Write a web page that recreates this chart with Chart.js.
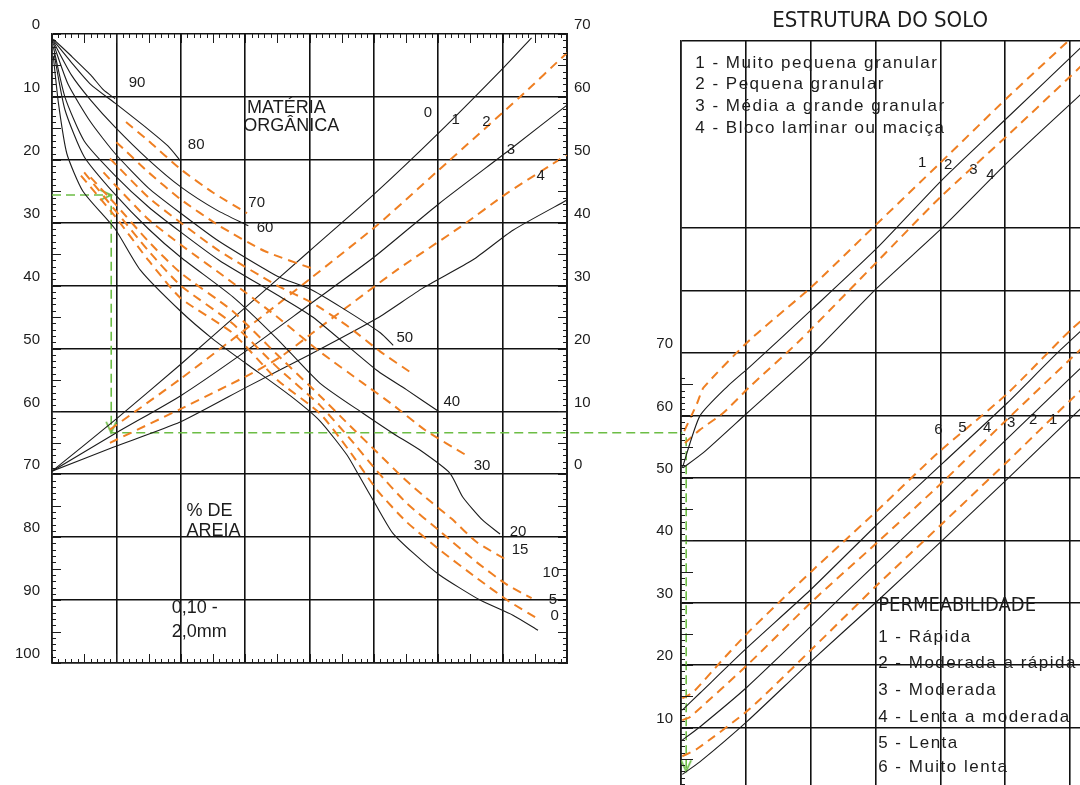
<!DOCTYPE html>
<html>
<head>
<meta charset="utf-8">
<title>Nomograma de erodibilidade</title>
<script src="https://cdn.jsdelivr.net/npm/chart.js@4.4.1/dist/chart.umd.min.js"></script>
<style>
  html, body { margin: 0; padding: 0; background: #fff; width: 1080px; height: 785px; overflow: hidden; }
  canvas { position: absolute; top: 0; }
  #left { left: 0; }
  #right { left: 580px; }
</style>
</head>
<body>
<canvas id="left" width="700" height="785"></canvas>
<canvas id="right" width="600" height="810"></canvas>
<script>
// ---------- left nomograph: x = grid column, y = % silt + very fine sand
var siltTicks = [0, 10, 20, 30, 40, 50, 60, 70, 80, 90, 100];
var kTicks = [70, 60, 50, 40, 30, 20, 10, 0];
var colTicks = [0, 1, 2, 3, 4, 5, 6, 7, 8];

// % sand curves (0,10 - 2,0 mm)
var sand90 = [[0.02,0.8],[0.3,3.5],[0.6,6.5],[0.8,8.9],[0.98,10.3]];
var sand80 = [[0.02,1],[0.3,4.5],[0.6,8],[0.98,11],[1.5,15.2],[1.8,17.8],[2.0,20.2]];
var sand70 = [[1.15,14],[1.5,17],[2.0,21.5],[2.5,25.2],[3.03,28.5]];
var sand60 = [[0.02,1.2],[0.3,6.5],[0.6,10.5],[0.98,14.8],[1.5,20],[2.0,24.3],[2.56,28],[3.05,30.5]];
var sand55 = [[1.0,17.2],[1.5,22],[2.0,26.3],[2.6,30.5],[3.3,34.5],[4.1,37.5]];
var sand50 = [[0.02,1.5],[0.25,8],[0.6,14],[0.98,19],[1.5,24.5],[2.0,28.5],[2.6,33],[3.5,38.5],[4.0,40.5],[4.5,43.5],[5.1,47.5],[5.3,49.5]];
var sand45 = [[0.9,19.8],[1.5,26],[2.0,30],[2.6,34.5],[3.5,40],[4.05,42.8],[4.6,46.5],[5.1,50.5],[5.6,54]];
var sand40 = [[0.02,2],[0.2,10],[0.5,17],[0.98,22.5],[1.5,27.5],[2.0,31.5],[2.6,36],[3.5,41.5],[4.05,45],[5.05,53.5],[5.5,56.5],[6.02,60.1]];
var sand30 = [[0.8,22],[0.98,24],[1.5,29.5],[2.0,33.5],[2.8,39.5],[3.5,45],[4.16,50.5],[4.83,55.5],[5.3,59],[5.8,63],[6.44,67]];
var sand20 = [[0.03,3],[0.2,12],[0.5,19.5],[0.98,25.5],[1.5,31],[2.0,35.5],[2.81,41.8],[3.5,48.5],[4.16,55.5],[4.83,60.3],[5.3,63.5],[5.71,66.1],[6.18,69.8],[6.38,73.6],[6.69,77.3],[6.96,79.5]];
var sand15 = [[0.6,22.8],[0.98,27],[1.5,33],[2.0,38],[2.8,44],[3.5,51],[4.16,57.5],[4.6,62],[5.05,66.5],[5.5,71],[5.9,74.5],[6.2,77],[6.6,80.8],[7.06,83.6]];
var sand10 = [[0.5,22],[0.98,28],[1.5,34.5],[2.0,40],[2.8,46],[3.5,53],[4.16,59],[4.6,64],[5.05,69.5],[5.5,74.5],[6.02,79],[6.6,84],[7.06,87.5],[7.45,89.7]];
var sand5 = [[0.45,22.5],[0.98,29],[1.5,36],[2.0,42],[2.8,47.5],[3.5,55],[4.16,60.3],[4.6,66],[5.05,72.5],[5.5,77.5],[6.02,82],[6.6,86.5],[7.1,90.2],[7.55,93]];
var sand0 = [[0.02,3.5],[0.1,11],[0.23,19],[0.48,25],[0.98,31],[1.37,37.5],[1.99,44],[2.5,48.5],[3.03,52.5],[3.7,57.5],[4.16,61.5],[4.58,66.9],[4.78,70.4],[5.05,75.2],[5.29,79.3],[5.61,82.5],[6.02,86],[6.65,90],[7.16,92.4],[7.55,94.8]];

// organic matter lines
var om0 = [[0,69.5],[1,61.2],[2,52.5],[3,43.5],[4,34.5],[5,25.5],[6,15.8],[7,5.5],[7.45,0.6]];
var om1 = [[0.9,62.9],[2,54.8],[3,47],[4,39],[5.05,30.4],[6.13,20.5],[7.27,10],[8,3]];
var om3 = [[0,69.5],[1,63.4],[2,57.5],[3,50.5],[4,43],[5,35.5],[6.02,26.9],[7.11,18.4],[8,11.3]];
var om4 = [[0.9,65],[2,59.6],[3,54.5],[3.54,51.4],[4.05,47.5],[5.36,37.5],[6.34,30.7],[7.07,25.3],[8,19.2]];
var omLow = [[0,69.5],[0.95,65.7],[1.99,61.7],[3.03,56.1],[4,51],[5.05,45.2],[5.76,40.4],[6.54,35.9],[7.16,31.2],[8,26.4]];

// example reading (green)
var guideLeft = [[0,25.6],[0.92,25.6],[0.92,63.4],[9.77,63.4]];

// ---------- right nomograph: x = grid column, y = K x 100
var rTicks = [10, 20, 30, 40, 50, 60, 70];
var rGrid = [0, 10, 20, 30, 40, 50, 60, 70, 80, 90, 120];
var rCols = [0, 1, 2, 3, 4, 5, 6, 7];

// soil structure
var struct1 = [[0.05,57.5],[0.25,62],[0.35,64.5],[1.06,72.1],[1.99,80.4],[2.92,89.7],[4.0,100.5],[5.03,110.9],[5.96,119.9],[6.1,121.2]];
var struct2 = [[0.02,51.6],[0.29,59.9],[0.71,64.6],[1.06,67.8],[2.04,77.2],[3.02,86.8],[4.03,97.8],[5.03,107.7],[6.16,118.9],[6.3,120.5]];
var struct3 = [[0.06,55.6],[0.29,57.7],[0.65,60.4],[1.06,64.6],[1.84,72.1],[3.02,84.6],[4.0,95],[5.08,105.3],[6.11,115.4],[6.6,120.5]];
var struct4 = [[0.03,51.6],[0.34,54],[1.02,60.4],[2.04,70],[3.02,80.4],[4.03,90.1],[5.03,100.5],[6.16,111.4],[7,119.5]];

// permeability
var perm1 = [[0.02,14.7],[0.19,15.7],[0.6,20.4],[1.03,25.2],[2.04,35.3],[3.04,44.9],[3.95,53.9],[5.03,63.5],[6.0,73.6],[7,82.5]];
var perm2 = [[0.02,12.8],[0.29,15.5],[1.02,22.8],[1.99,32],[3.02,42.5],[4.04,52.4],[5.03,62],[5.85,70.5],[7,81.5]];
var perm3 = [[0.02,11.2],[0.14,11.7],[1.06,20.4],[2.04,30.4],[3.02,39.6],[4.05,49.5],[5.03,59.4],[6.0,69],[7,78.8]];
var perm4 = [[0.02,8],[0.29,10.1],[1.02,16.5],[1.99,26.1],[3.02,36.4],[4.03,46.3],[5.03,56.3],[6.0,66],[7,75.8]];
var perm5 = [[0.02,5.4],[0.25,6.6],[1.06,13],[2.04,22.8],[3.02,32.8],[4.05,42.9],[5.03,52.6],[6,62.4],[7,72.2]];
var perm6 = [[0.02,2.5],[0.29,4.5],[1.02,11],[1.99,20.5],[3.02,30.2],[4.05,40.2],[5.03,49.8],[6.0,59.5],[7,69.3]];

var guideRight = [[0.08,56.5],[0.08,3]];
var guideRightTip = [[0,57.2]];

// ---------- texts
var leftNotes = [
  {t:'90', x:1.32, y:7.8}, {t:'80', x:2.24, y:17.6}, {t:'70', x:3.18, y:26.9},
  {t:'60', x:3.31, y:30.8}, {t:'50', x:5.48, y:48.3}, {t:'40', x:6.21, y:58.5},
  {t:'30', x:6.68, y:68.7}, {t:'20', x:7.24, y:79.2}, {t:'15', x:7.27, y:82},
  {t:'10', x:7.75, y:85.7}, {t:'5', x:7.78, y:90}, {t:'0', x:7.81, y:92.5},
  {t:'0', x:5.84, y:12.6}, {t:'1', x:6.27, y:13.7}, {t:'2', x:6.75, y:14},
  {t:'3', x:7.13, y:18.4}, {t:'4', x:7.59, y:22.6},
  {t:'MATÉRIA', x:3.03, y:11.8, f:'block', align:'left'},
  {t:'ORGÂNICA', x:2.97, y:14.6, f:'block', align:'left'},
  {t:'% DE', x:2.09, y:75.8, f:'block', align:'left'},
  {t:'AREIA', x:2.09, y:79, f:'block', align:'left'},
  {t:'0,10 -', x:1.86, y:91.3, f:'block', align:'left'},
  {t:'2,0mm', x:1.86, y:95, f:'block', align:'left'}
];
var rightNotes = [
  {t:'ESTRUTURA DO SOLO', x:3.07, y:123.1, f:'title'},
  {t:'1 - Muito pequena granular', x:0.22, y:116.5, f:'legend', align:'left'},
  {t:'2 - Pequena granular', x:0.22, y:113, f:'legend', align:'left'},
  {t:'3 - Média a grande granular', x:0.22, y:109.5, f:'legend', align:'left'},
  {t:'4 - Bloco laminar ou maciça', x:0.22, y:106, f:'legend', align:'left'},
  {t:'1', x:3.72, y:100.5}, {t:'2', x:4.12, y:100.2}, {t:'3', x:4.51, y:99.4}, {t:'4', x:4.77, y:98.6},
  {t:'6', x:3.97, y:57.7}, {t:'5', x:4.34, y:58}, {t:'4', x:4.72, y:58},
  {t:'3', x:5.09, y:58.8}, {t:'2', x:5.43, y:59.3}, {t:'1', x:5.74, y:59.3},
  {t:'PERMEABILIDADE', x:3.04, y:29.5, f:'head', align:'left'},
  {t:'1 - Rápida', x:3.04, y:24.5, f:'legend', align:'left'},
  {t:'2 - Moderada a rápida', x:3.04, y:20.35, f:'legend', align:'left'},
  {t:'3 - Moderada', x:3.04, y:16, f:'legend', align:'left'},
  {t:'4 - Lenta a moderada', x:3.04, y:11.7, f:'legend', align:'left'},
  {t:'5 - Lenta', x:3.04, y:7.5, f:'legend', align:'left'},
  {t:'6 - Muito lenta', x:3.04, y:3.7, f:'legend', align:'left'}
];

var ink = '#1c1c1c';
var orange = '#ef7f22';
var green = '#6cbd45';
var fonts = {
  num: {font: '15px "Liberation Sans", Arial, sans-serif'},
  block: {font: '18px "Liberation Sans", Arial, sans-serif'},
  title: {font: '22px "Liberation Sans Narrow", "DejaVu Sans Condensed", sans-serif'},
  head: {font: '20px "Liberation Sans Narrow", "DejaVu Sans Condensed", sans-serif'},
  legend: {font: '17px "Liberation Sans", Arial, sans-serif', spacing: '1.5px'}
};

// little open arrow head, tip in the middle of the canvas
function chevron() {
  var c = document.createElement('canvas');
  c.width = 24; c.height = 24;
  var g = c.getContext('2d');
  g.strokeStyle = green; g.lineWidth = 1.8;
  g.beginPath(); g.moveTo(1, 7); g.lineTo(12, 12); g.lineTo(1, 17); g.stroke();
  return c;
}
var arrow = chevron();

function black(data) {
  return {data: data, showLine: true, borderColor: ink, borderWidth: 1.1, pointRadius: 0, tension: 0.2};
}
function dashed(data) {
  return {data: data, showLine: true, borderColor: orange, borderWidth: 2, borderDash: [9, 6], pointRadius: 0, tension: 0.2};
}

// inside tick marks + free texts
var notesPlugin = {
  id: 'notes',
  afterDraw: function(chart, args, opts) {
    var ctx = chart.ctx, area = chart.chartArea;
    var xs = chart.scales.x, ys = chart.scales.y;
    ctx.save();
    ctx.strokeStyle = ink;
    ctx.lineWidth = 1;
    (opts.ticks || []).forEach(function(t) {
      for (var i = t.from; i <= t.to; i++) {
        var len = (i % t.every == 0) ? t.long : t.short;
        var d;
        ctx.beginPath();
        if (t.side == 'left' || t.side == 'right') {
          var py = Math.round(ys.getPixelForValue(i * t.step)) + 0.5;
          var x0 = t.side == 'left' ? area.left : area.right;
          d = t.side == 'left' ? len : -len;
          ctx.moveTo(x0, py); ctx.lineTo(x0 + d, py);
        } else {
          var px = Math.round(xs.getPixelForValue(i * t.step)) + 0.5;
          var y0 = t.side == 'top' ? area.top : area.bottom;
          d = t.side == 'top' ? len : -len;
          ctx.moveTo(px, y0); ctx.lineTo(px, y0 + d);
        }
        ctx.stroke();
      }
    });
    ctx.fillStyle = ink;
    ctx.textBaseline = 'middle';
    (opts.texts || []).forEach(function(n) {
      var f = fonts[n.f || 'num'];
      ctx.font = f.font;
      ctx.letterSpacing = f.spacing || '0px';
      ctx.textAlign = n.align || 'center';
      ctx.fillText(n.t, xs.getPixelForValue(n.x), ys.getPixelForValue(n.y));
    });
    ctx.restore();
  }
};

var gridStyle = {color: '#111', lineWidth: 1.6, drawTicks: false};
var tickFont = {family: '"Liberation Sans", Arial, sans-serif', size: 15};

// ---------- left chart
var leftSets = [
  black(sand90), black(sand80), dashed(sand70), black(sand60), dashed(sand55), black(sand50),
  dashed(sand45), black(sand40), dashed(sand30), black(sand20), dashed(sand15), dashed(sand10),
  dashed(sand5), black(sand0),
  black(om0), dashed(om1), black(om3), dashed(om4), black(omLow),
  {data: guideLeft, showLine: true, borderColor: green, borderWidth: 1.6, borderDash: [9, 5], clip: false,
   pointRadius: [0, 3, 3, 0], pointStyle: ['circle', arrow, arrow, 'circle'], pointRotation: [0, 0, 90, 0]}
];

new Chart(document.getElementById('left'), {
  type: 'scatter',
  data: {datasets: leftSets},
  options: {
    responsive: false,
    animation: false,
    layout: {padding: {left: 0, right: 0, top: 34, bottom: 122}},
    plugins: {
      legend: {display: false},
      tooltip: {enabled: false},
      notes: {
        texts: leftNotes,
        ticks: [
          {side: 'left', from: 0, to: 100, step: 1, every: 5, short: 4, long: 9},
          {side: 'right', from: 0, to: 100, step: 1, every: 5, short: 4, long: 9},
          {side: 'top', from: 0, to: 80, step: 0.1, every: 5, short: 4, long: 9},
          {side: 'bottom', from: 0, to: 80, step: 0.1, every: 5, short: 4, long: 9}
        ]
      }
    },
    scales: {
      x: {
        type: 'linear', min: 0, max: 8,
        afterBuildTicks: function(s) { s.ticks = colTicks.map(function(v) { return {value: v}; }); },
        ticks: {display: false},
        grid: gridStyle,
        border: {color: ink, width: 1.6},
        afterFit: function(s) { s.height = 0; }
      },
      y: {
        type: 'linear', min: 0, max: 100, reverse: true, position: 'left',
        afterBuildTicks: function(s) { s.ticks = siltTicks.map(function(v) { return {value: v}; }); },
        ticks: {color: ink, font: tickFont, padding: 12, labelOffset: -9},
        grid: gridStyle,
        border: {color: ink, width: 1.6},
        afterFit: function(s) { s.width = 52; }
      },
      y2: {
        type: 'linear', min: -30, max: 70, position: 'right',
        afterBuildTicks: function(s) { s.ticks = kTicks.map(function(v) { return {value: v}; }); },
        ticks: {color: ink, font: tickFont, padding: 7, labelOffset: -9},
        grid: {drawOnChartArea: false, drawTicks: false},
        border: {color: ink, width: 2},
        afterFit: function(s) { s.width = 133; }
      }
    }
  },
  plugins: [notesPlugin]
});

// ---------- right chart
var rightSets = [
  dashed(struct1), black(struct2), dashed(struct3), black(struct4),
  dashed(perm1), black(perm2), dashed(perm3), black(perm4), dashed(perm5), black(perm6),
  {data: guideRight, showLine: true, borderColor: green, borderWidth: 1.6, borderDash: [9, 5],
   pointRadius: [0, 3], pointStyle: ['circle', arrow], pointRotation: [0, 90]},
  {data: guideRightTip, showLine: false, pointRadius: 3, pointStyle: arrow, pointRotation: 0}
];

new Chart(document.getElementById('right'), {
  type: 'scatter',
  data: {datasets: rightSets},
  options: {
    responsive: false,
    animation: false,
    layout: {padding: {left: 0, right: 45, top: 41, bottom: 20}},
    plugins: {
      legend: {display: false},
      tooltip: {enabled: false},
      notes: {
        texts: rightNotes,
        ticks: [{side: 'left', from: 0, to: 66, step: 1, every: 5, short: 4, long: 12}]
      }
    },
    scales: {
      x: {
        type: 'linear', min: 0, max: 7,
        afterBuildTicks: function(s) { s.ticks = rCols.map(function(v) { return {value: v}; }); },
        ticks: {display: false},
        grid: gridStyle,
        border: {color: ink, width: 1.6},
        afterFit: function(s) { s.height = 0; }
      },
      y: {
        type: 'linear', min: 0, max: 120, position: 'left',
        afterBuildTicks: function(s) { s.ticks = rGrid.map(function(v) { return {value: v}; }); },
        ticks: {
          color: ink, font: tickFont, padding: 8, labelOffset: -9,
          callback: function(v) { return rTicks.indexOf(v) >= 0 ? v : ''; }
        },
        grid: gridStyle,
        border: {color: ink, width: 1.6},
        afterFit: function(s) { s.width = 101; }
      }
    }
  },
  plugins: [notesPlugin]
});
</script>
</body>
</html>
